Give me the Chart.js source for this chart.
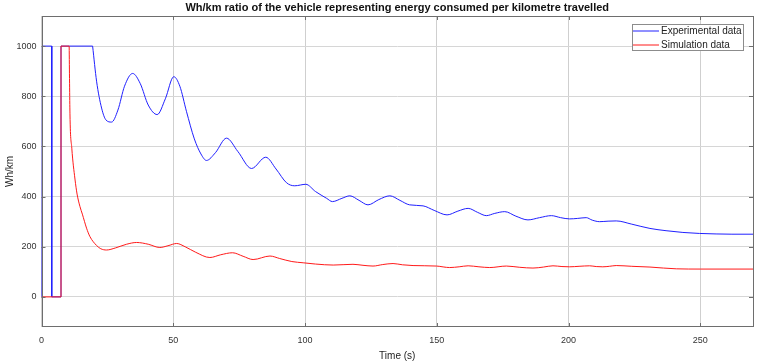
<!DOCTYPE html>
<html>
<head>
<meta charset="utf-8">
<script src="https://cdn.jsdelivr.net/npm/chart.js@4"></script>
<style>
  html, body { margin: 0; padding: 0; background: #fff; }
  #wrap { width: 762px; height: 362px; }
</style>
</head>
<body>
<div id="wrap"><canvas id="chart" width="762" height="362"></canvas></div>
<script>
// ===== DATA =====
const titleText = 'Wh/km ratio of the vehicle representing energy consumed per kilometre travelled';
const seriesNames = ['Experimental data', 'Simulation data'];
const xTicks = [0, 50, 100, 150, 200, 250];
const yTicks = [0, 200, 400, 600, 800, 1000];

// step parts at the start (time, Wh/km)
const expStepT = [0, 0.3, 3.9, 3.9, 7.4, 7.4, 19.4];
const expStepV = [0, 1000, 1000, 0, 0, 1000, 1000];
const simStepT = [0, 7.4, 7.4, 10.5];
const simStepV = [0, 0, 1000, 1000];

// smooth parts
const expT = [19.4, 20.9, 22.8, 24.5, 26.6, 29, 31.5, 34.6, 37.5, 40.5, 43.9, 47, 50.2, 52.5, 55, 58, 60.5, 62.6,
  66, 70.2, 74.5, 79.7, 85.1, 89, 93, 96.1, 100.3, 104, 108.2, 110.4, 114, 117, 120.5, 123.9, 128, 132.2, 136,
  139.7, 144.8, 149, 153.9, 158, 161.9, 165.5, 168.8, 172, 175.8, 180, 184.6, 189, 193.5, 197, 200.4, 203.5,
  206.7, 209, 211.8, 215, 218.1, 224, 230.9, 237, 243.4, 249.7, 256, 262, 270];
const expV = [1000, 860, 753, 705, 697, 745, 840, 891, 850, 765, 727, 790, 878, 840, 740, 630, 570, 544,
  575, 633, 580, 512, 557, 510, 455, 443, 449, 420, 393, 380, 393, 403, 385, 367, 388, 403, 385,
  367, 363, 345, 327, 342, 353, 337, 324, 333, 340, 322, 307, 316, 324, 316, 311, 313,
  316, 306, 300, 302, 303, 290, 273, 264, 257, 253, 251, 250, 250];

const simT = [10.5, 10.8, 11.5, 12.7, 13.5, 14.6, 15.5, 17.1, 18.4, 20.9, 22.5, 24.7, 28, 32.3, 36.1, 40.5, 44.9,
  48, 51.3, 54.5, 58.5, 63.9, 68, 72.5, 76.5, 80.3, 86.7, 90.4, 95, 99.3, 104, 110.7, 118.2, 122, 125.8, 129.5,
  133.4, 137, 141, 149.9, 154.9, 158.5, 161.9, 166, 170.1, 176.4, 181.5, 186.5, 190.5, 194.1, 197.5, 200.4,
  204, 208, 210.5, 213, 215.5, 218.1, 224, 230.9, 236, 240.9, 250, 270];
const simV = [1000, 730, 593, 470, 410, 360, 330, 274, 240, 205, 192, 187, 195, 210, 217, 210, 197,
  204, 213, 200, 178, 157, 168, 176, 162, 149, 163, 153, 141, 136, 131, 127, 130, 126, 123, 129,
  133, 128, 125, 123, 117, 120, 124, 120, 117, 123, 118, 115, 119, 124, 121, 120,
  122, 124, 121, 120, 122, 125, 122, 119, 115, 112, 111, 111];

const expColor = '#2020ff';
const simColor = '#ff1a1a';

function pts(t, v) { return t.map((x, i) => ({ x: x, y: v[i] })); }

// ===== FRAME, TICKS, TITLE, LEGEND =====
const framePlugin = {
  id: 'frame',
  afterDatasetsDraw(chart) {
    const { ctx, chartArea: a, scales } = chart;
    ctx.save();
    ctx.strokeStyle = '#6e6e6e';
    ctx.lineWidth = 1;
    ctx.strokeRect(Math.round(a.left) + 0.5, Math.round(a.top) + 0.5,
      Math.round(a.right - a.left) - 1, Math.round(a.bottom - a.top) - 1);
    // inward tick marks
    ctx.beginPath();
    xTicks.forEach(v => {
      const x = Math.round(scales.x.getPixelForValue(v)) + 0.5;
      ctx.moveTo(x, a.bottom); ctx.lineTo(x, a.bottom - 4);
      ctx.moveTo(x, a.top); ctx.lineTo(x, a.top + 4);
    });
    yTicks.forEach(v => {
      const y = Math.round(scales.y.getPixelForValue(v)) + 0.5;
      ctx.moveTo(a.left, y); ctx.lineTo(a.left + 4, y);
      ctx.moveTo(a.right, y); ctx.lineTo(a.right - 4, y);
    });
    ctx.stroke();

    // title
    ctx.fillStyle = '#111';
    ctx.font = 'bold 11px "Liberation Sans", Arial, sans-serif';
    ctx.textAlign = 'center';
    ctx.textBaseline = 'middle';
    ctx.fillText(titleText, (a.left + a.right) / 2, 8);

    // legend
    const bx = 632, by = 24, bw = 112, bh = 27;
    ctx.fillStyle = '#fff';
    ctx.fillRect(bx, by, bw, bh);
    ctx.strokeStyle = '#8c8c8c';
    ctx.strokeRect(bx + 0.5, by + 0.5, bw - 1, bh - 1);
    ctx.font = '10px "Liberation Sans", Arial, sans-serif';
    ctx.textAlign = 'left';
    const rows = [{ color: expColor, y: 31 }, { color: simColor, y: 45 }];
    rows.forEach((r, i) => {
      ctx.beginPath();
      ctx.strokeStyle = r.color;
      ctx.lineWidth = 1;
      ctx.moveTo(bx + 1, r.y);
      ctx.lineTo(bx + 27, r.y);
      ctx.stroke();
      ctx.fillStyle = '#222';
      ctx.fillText(seriesNames[i], bx + 29, r.y + 0.5);
    });
    ctx.restore();
  }
};

// ===== CHART =====
const ctx = document.getElementById('chart');

new Chart(ctx, {
  type: 'line',
  data: {
    datasets: [
      { data: pts(expStepT, expStepV), borderColor: expColor, borderWidth: 1, tension: 0, pointRadius: 0, order: 2 },
      { data: pts(expT, expV), borderColor: expColor, borderWidth: 1, cubicInterpolationMode: 'monotone', pointRadius: 0, order: 2 },
      { data: pts(simStepT, simStepV), borderColor: simColor, borderWidth: 1, tension: 0, pointRadius: 0, order: 1 },
      { data: pts(simT, simV), borderColor: simColor, borderWidth: 1, cubicInterpolationMode: 'monotone', pointRadius: 0, order: 1 }
    ]
  },
  options: {
    responsive: false,
    animation: false,
    layout: { padding: { top: 16, right: 9, left: 0, bottom: 0 } },
    plugins: {
      legend: { display: false },
      tooltip: { enabled: false }
    },
    scales: {
      x: {
        type: 'linear',
        min: 0,
        max: 270,
        afterFit(scale) { scale.height = 35; },
        afterBuildTicks(scale) { scale.ticks = xTicks.map(v => ({ value: v })); },
        grid: { color: '#cfcfcf', drawTicks: false },
        border: { display: false },
        ticks: { color: '#333', padding: 8, font: { size: 9, family: '"Liberation Sans", Arial, sans-serif' } },
        title: {
          display: true, text: 'Time (s)', color: '#222',
          font: { size: 10, family: '"Liberation Sans", Arial, sans-serif' },
          padding: { top: 2, bottom: 0 }
        }
      },
      y: {
        min: -120,
        max: 1120,
        afterFit(scale) { scale.width = 41.5; },
        afterBuildTicks(scale) { scale.ticks = yTicks.map(v => ({ value: v })); },
        grid: { color: '#d6d6d6', drawTicks: false },
        border: { display: false },
        ticks: {
          color: '#333', padding: 5, font: { size: 9, family: '"Liberation Sans", Arial, sans-serif' },
          callback: v => String(v)
        },
        title: {
          display: true, text: 'Wh/km', color: '#222',
          font: { size: 10, family: '"Liberation Sans", Arial, sans-serif' },
          padding: { top: 4, bottom: 0 }
        }
      }
    }
  },
  plugins: [framePlugin]
});
</script>
</body>
</html>
